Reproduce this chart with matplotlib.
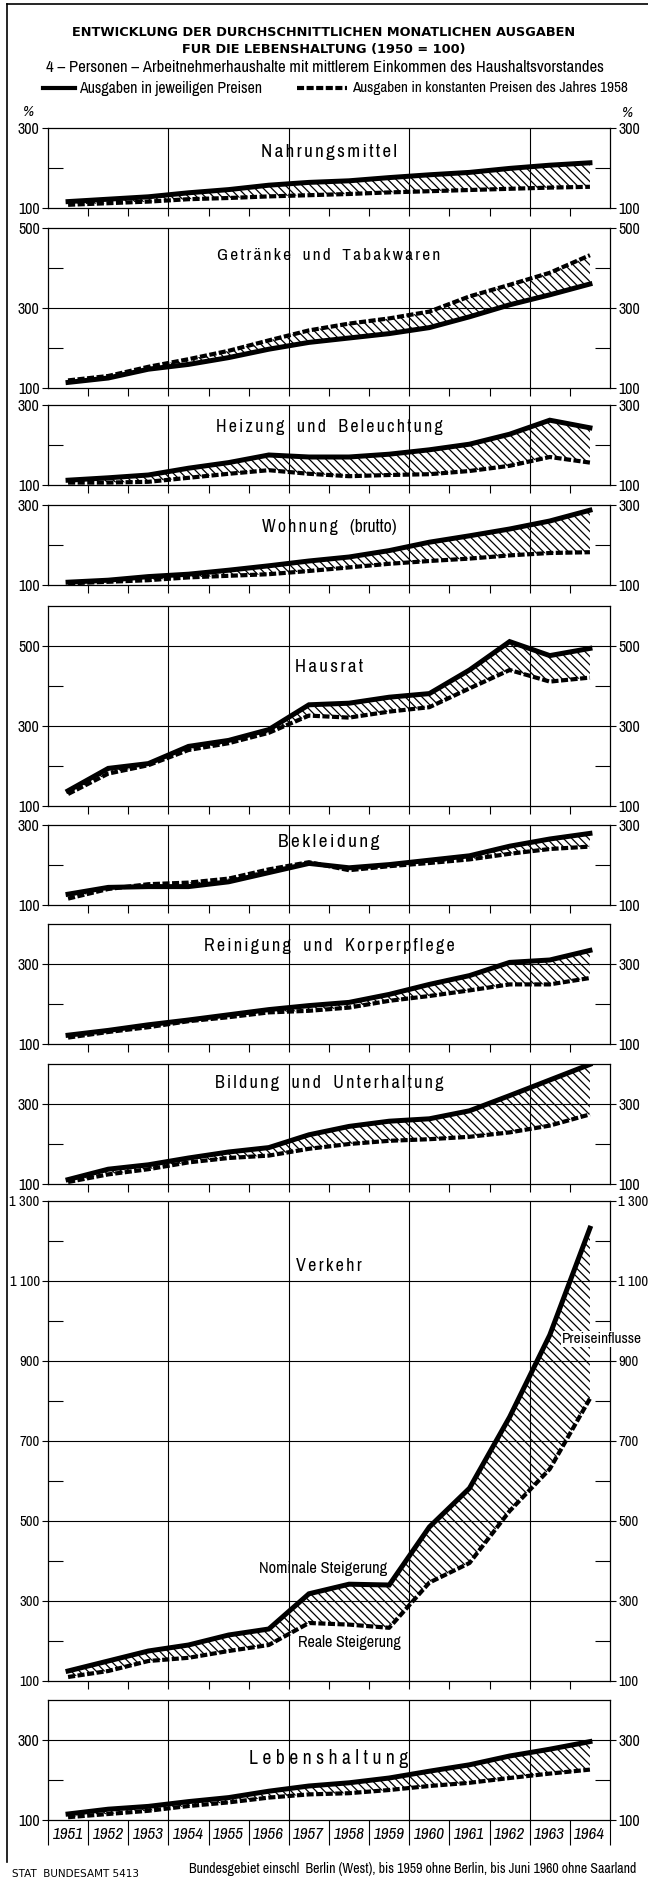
import matplotlib
matplotlib.use("Agg")
import matplotlib.pyplot as plt
from matplotlib import font_manager
from matplotlib.lines import Line2D
from matplotlib.ticker import FixedLocator, FuncFormatter, NullFormatter

# data (1950 = 100), nominal = current prices, real = constant 1958 prices
years = list(range(1951, 1965))

nahrung_nom = [116, 122, 128, 138, 146, 157, 164, 168, 176, 183, 189, 199, 207, 213]
nahrung_real = [108, 112, 116, 122, 125, 129, 132, 135, 139, 142, 145, 148, 151, 153]

getraenke_nom = [114, 125, 147, 159, 176, 197, 214, 225, 236, 251, 278, 308, 333, 360]
getraenke_real = [119, 130, 153, 172, 193, 219, 244, 261, 274, 291, 329, 358, 388, 432]

heizung_nom = [112, 118, 125, 142, 156, 175, 170, 170, 177, 188, 202, 227, 262, 243]
heizung_real = [106, 106, 108, 118, 128, 137, 128, 122, 125, 127, 135, 148, 170, 156]

wohnung_nom = [107, 112, 121, 127, 137, 148, 160, 170, 186, 207, 223, 240, 260, 287]
wohnung_real = [104, 108, 112, 119, 123, 127, 135, 144, 153, 160, 166, 174, 180, 182]

hausrat_nom = [138, 194, 206, 249, 264, 291, 353, 357, 372, 381, 440, 511, 476, 494]
hausrat_real = [130, 181, 202, 240, 257, 283, 326, 321, 336, 347, 394, 440, 411, 421]

bekleidung_nom = [127, 144, 146, 146, 158, 181, 204, 193, 201, 212, 223, 247, 265, 279]
bekleidung_real = [116, 140, 152, 156, 166, 189, 207, 187, 197, 205, 214, 228, 240, 246]

reinigung_nom = [122, 134, 148, 160, 173, 186, 196, 204, 224, 249, 271, 304, 310, 334]
reinigung_real = [116, 130, 142, 157, 167, 179, 183, 191, 208, 220, 234, 249, 249, 265]

bildung_nom = [111, 137, 148, 165, 180, 191, 223, 244, 257, 263, 283, 321, 360, 399]
bildung_real = [105, 124, 137, 154, 165, 171, 188, 200, 208, 212, 218, 229, 246, 274]

verkehr_nom = [125, 150, 175, 190, 215, 230, 318, 342, 340, 485, 582, 760, 965, 1232]
verkehr_real = [110, 125, 150, 158, 175, 190, 245, 241, 233, 346, 395, 525, 630, 806]

leben_nom = [115, 127, 134, 146, 156, 172, 185, 193, 205, 222, 238, 260, 277, 296]
leben_real = [107, 115, 123, 135, 144, 156, 164, 167, 175, 185, 193, 205, 216, 226]

titles = ["Nahrungsmittel", "Getränke und Tabakwaren", "Heizung und Beleuchtung",
          "Wohnung (brutto)", "Hausrat", "Bekleidung", "Reinigung und Korperpflege",
          "Bildung und Unterhaltung", "Verkehr", "Lebenshaltung"]
nominal = [nahrung_nom, getraenke_nom, heizung_nom, wohnung_nom, hausrat_nom,
           bekleidung_nom, reinigung_nom, bildung_nom, verkehr_nom, leben_nom]
real = [nahrung_real, getraenke_real, heizung_real, wohnung_real, hausrat_real,
        bekleidung_real, reinigung_real, bildung_real, verkehr_real, leben_real]
ymax = [300, 500, 300, 300, 600, 300, 400, 400, 1300, 400]

# layout (pixels)
W, H = 648, 1879
panel_top = [128, 228, 405, 505, 606, 825, 924, 1064, 1201, 1700]
title_y = [240, 432, 245, 245, 447, 257, 345, 352, 1137, 255]
title_w = [136, 222, 226, 134, 68, 101, 250, 228, 66, 158]
px_per_unit = 0.4
ax_left, ax_right = 48, 610

# pick the narrowest face that is there (the print uses a condensed grotesque)
ttf = font_manager.fontManager.ttflist
narrow_names = sorted({f.name for f in ttf if 'Narrow' in f.name or 'Condensed' in f.name})
STRETCH = 'normal'
if narrow_names:
    NARROW = [narrow_names[0], 'DejaVu Sans']
else:
    cond = [f for f in ttf if str(f.stretch) in ('condensed', 'semi-condensed')]
    if cond:
        NARROW = [cond[0].name, 'DejaVu Sans']
        STRETCH = str(cond[0].stretch)
    else:
        NARROW = ['Liberation Sans', 'DejaVu Sans']

plt.rcParams['hatch.linewidth'] = 0.9
plt.rcParams['font.family'] = NARROW
plt.rcParams['font.stretch'] = STRETCH
fig = plt.figure(figsize=(W / 100, H / 100), dpi=100)
renderer = fig.canvas.get_renderer()


def fx(x):
    return x / W


def fy(y):
    return 1 - y / H


def fit(t, width_px):
    # scale the font so the text is as wide as in the print
    w = t.get_window_extent(renderer).width
    t.set_fontsize(t.get_fontsize() * width_px / w)


def spaced(s, gap):
    out = []
    for word in s.split(' '):
        out.append(word if word.startswith('(') else gap.join(word))
    return '   '.join(out)


def thousands(v, pos):
    v = int(v)
    return f"{v // 1000} {v % 1000:03d}" if v >= 1000 else str(v)


for i in range(len(titles)):
    h = (ymax[i] - 100) * px_per_unit
    ax = fig.add_axes([fx(ax_left), fy(panel_top[i] + h), (ax_right - ax_left) / W, h / H])
    ax.set_xlim(1950.5, 1964.5)
    ax.set_ylim(100, ymax[i])

    # grid
    major = list(range(100, ymax[i] + 1, 200))
    minor = list(range(200, ymax[i], 200))
    for v in major[1:]:
        if v < ymax[i]:
            ax.axhline(v, color='black', lw=0.8, zorder=1)
    for xv in [1953.5, 1956.5, 1959.5, 1962.5]:
        ax.axvline(xv, color='black', lw=0.8, zorder=1)

    ax.fill_between(years, nominal[i], real[i], facecolor='none', edgecolor='black',
                    hatch='\\\\\\\\', linewidth=0, zorder=2)
    ax.plot(years, nominal[i], color='black', lw=3.6, solid_joinstyle='miter', zorder=3)
    ax.plot(years, real[i], color='black', lw=3.0, dashes=(1.7, 0.6), zorder=3)

    ax.yaxis.set_major_locator(FixedLocator(major))
    ax.yaxis.set_minor_locator(FixedLocator(minor))
    ax.yaxis.set_major_formatter(FuncFormatter(thousands))
    ax.yaxis.set_minor_formatter(NullFormatter())
    ax.tick_params(axis='y', which='major', direction='out', length=4, width=0.8, pad=2,
                   left=True, right=True, labelleft=True, labelright=True,
                   labelsize=10.5 if ymax[i] > 1000 else 11.5)
    ax.tick_params(axis='y', which='minor', direction='in', length=11, width=0.8,
                   left=True, right=True)

    for s in ax.spines.values():
        s.set_linewidth(0.9)

    if i < len(titles) - 1:
        ax.set_xticks([1951.5 + k for k in range(13)])
        ax.tick_params(axis='x', which='major', direction='out', length=6, width=0.8,
                       labelbottom=False)
    else:
        ax.set_xticks([1950.5 + k for k in range(15)])
        ax.set_xticks(years, minor=True)
        ax.set_xticklabels([], minor=False)
        ax.set_xticklabels([str(y) for y in years], minor=True)
        ax.tick_params(axis='x', which='major', direction='out', length=18, width=0.8)
        ax.tick_params(axis='x', which='minor', length=0, pad=5, labelsize=10)
        for lab in ax.get_xticklabels(minor=True):
            lab.set_fontstyle('italic')
            fit(lab, 31)

    gap = ' ' if i == len(titles) - 1 else '\u2009'
    t = ax.text(1957.5, title_y[i], spaced(titles[i], gap), ha='center', va='center',
                fontsize=12, zorder=4)
    fit(t, title_w[i])

    if i == 8:
        t = ax.text(1957.35, 380, "Nominale Steigerung", ha='center', va='center',
                    fontsize=11, zorder=4)
        fit(t, 128)
        t = ax.text(1958.0, 195, "Reale Steigerung", ha='center', va='center',
                    fontsize=11, zorder=4,
                    bbox=dict(facecolor='white', edgecolor='none', pad=0.5))
        fit(t, 103)
        t = ax.text(1963.3, 955, "Preiseinflusse", ha='left', va='center',
                    fontsize=10.5, zorder=5, clip_on=False,
                    bbox=dict(facecolor='white', edgecolor='none', pad=0.5))
        fit(t, 80)

# header
t = fig.text(0.5, fy(33), "ENTWICKLUNG DER DURCHSCHNITTLICHEN MONATLICHEN AUSGABEN",
             ha='center', va='center', fontsize=9.6, fontweight='bold',
             family='DejaVu Sans', fontstretch='normal')
fit(t, 508)
size1 = t.get_fontsize()
fig.text(0.5, fy(50), "FUR DIE LEBENSHALTUNG (1950 = 100)",
         ha='center', va='center', fontsize=size1, fontweight='bold',
         family='DejaVu Sans', fontstretch='normal')
t = fig.text(fx(325), fy(68),
             "4 \u2013 Personen \u2013 Arbeitnehmerhaushalte mit mittlerem Einkommen des Haushaltsvorstandes",
             ha='center', va='center', fontsize=11)
fit(t, 560)

# legend
fig.add_artist(Line2D([fx(43), fx(75)], [fy(88), fy(88)], color='black', lw=3.0))
t = fig.text(fx(79), fy(88), "Ausgaben in jeweiligen Preisen", ha='left', va='center',
             fontsize=10.5)
fit(t, 184)
fig.add_artist(Line2D([fx(297), fx(347)], [fy(88), fy(88)], color='black', lw=3.0,
                      dashes=(1.7, 0.6)))
t = fig.text(fx(352), fy(88), "Ausgaben in konstanten Preisen des Jahres 1958", ha='left',
             va='center', fontsize=10.5)
fit(t, 278)

fig.text(fx(28), fy(112), "%", ha='center', va='center', fontsize=11, style='italic')
fig.text(fx(627), fy(113), "%", ha='center', va='center', fontsize=11, style='italic')

# frame lines
fig.add_artist(Line2D([fx(7), fx(648)], [fy(4), fy(4)], color='black', lw=1.2))
fig.add_artist(Line2D([fx(7), fx(7)], [fy(4), fy(1862)], color='black', lw=1.2))

# footer
fig.text(fx(12), fy(1874), "STAT  BUNDESAMT 5413", ha='left', va='center',
         fontsize=7.5, family='DejaVu Sans', fontstretch='normal')
t = fig.text(fx(636), fy(1869),
             "Bundesgebiet einschl  Berlin (West), bis 1959 ohne Berlin, bis Juni 1960 ohne Saarland",
             ha='right', va='center', fontsize=9.5)
fit(t, 448)

fig.savefig("out.png", dpi=100)
